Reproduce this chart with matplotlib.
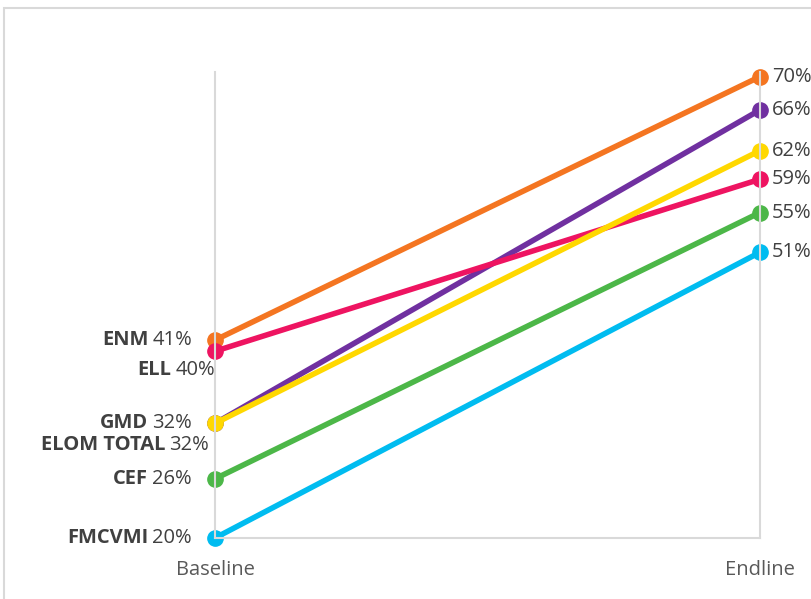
import matplotlib.pyplot as plt
from matplotlib.patches import Rectangle

# data (share of children, %)
periods = ['Baseline', 'Endline']
names = ['ENM', 'GMD', 'ELL', 'ELOM TOTAL', 'CEF', 'FMCVMI']
baseline = [41.4, 32.4, 40.2, 32.4, 26.4, 20.0]
endline = [69.9, 66.3, 58.8, 61.9, 55.2, 50.9]
colors = ['#F47521', '#7030A0', '#EE1461', '#FFD800', '#4CB748', '#00BCF0']

# label offsets (pixels) for the left-hand labels
left_off = {'ENM': (-23, 0), 'GMD': (-23, 0), 'ELL': (0, -19),
            'ELOM TOTAL': (-6, -22), 'CEF': (-23, 0), 'FMCVMI': (-23, 0)}

plt.rcParams['font.family'] = ['Open Sans', 'DejaVu Sans']
FS = 14.5

fig = plt.figure(figsize=(8.11, 5.99), dpi=100)
fig.patches.append(Rectangle((4 / 811, -0.1), 1.2, 1 - 8 / 599 + 0.1,
                             transform=fig.transFigure, fill=False,
                             edgecolor='#D9D9D9', linewidth=1.5))
ax = fig.add_axes([215 / 811, 1 - 538 / 599, 545 / 811, 466 / 599])

x = [0, 1]
for n, b, e, c in zip(names, baseline, endline, colors):
    ax.plot(x, [b, e], color=c, lw=4, marker='o', ms=11,
            solid_capstyle='round', clip_on=False)

    pct = ax.annotate(f'{round(b)}%', xy=(0, b), xytext=left_off[n],
                      textcoords='offset pixels', ha='right', va='center',
                      fontsize=FS, color='#404040')
    ax.annotate(n, xy=(0, 0.5), xycoords=pct, xytext=(-4, 0),
                textcoords='offset pixels', ha='right', va='center',
                fontsize=FS, fontweight='bold', color='#404040')
    ax.annotate(f'{round(e)}%', xy=(1, e), xytext=(12, 0),
                textcoords='offset pixels', ha='left', va='center',
                fontsize=FS, color='#404040', annotation_clip=False)

ax.set_xlim(0, 1)
ax.set_ylim(20, 70.4)
ax.set_yticks([])
ax.set_xticks(x)
ax.set_xticklabels(periods, fontsize=14.5, color='#595959')
ax.tick_params(axis='x', length=0, pad=16)
ax.spines['top'].set_visible(False)
for s in ['left', 'right', 'bottom']:
    ax.spines[s].set_color('#D9D9D9')
    ax.spines[s].set_linewidth(1.5)

fig.savefig('out.png', dpi=100)
